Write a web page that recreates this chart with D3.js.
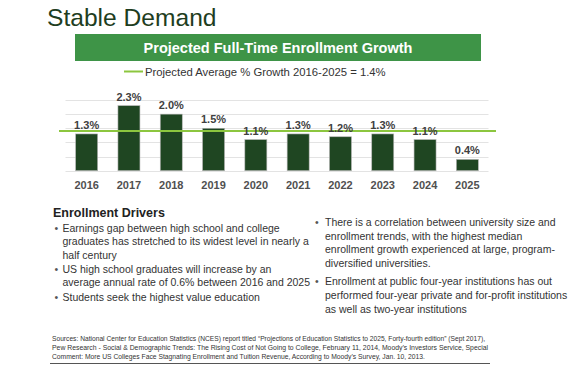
<!DOCTYPE html>
<html><head><meta charset="utf-8">
<script src="https://cdn.jsdelivr.net/npm/d3@7"></script>
<style>
html,body{margin:0;padding:0;background:#fff;}
svg{display:block;font-family:"Liberation Sans",Arial,sans-serif;}
</style></head>
<body>
<svg id="c" width="588" height="366"></svg>
<script>
const years = ["2016","2017","2018","2019","2020","2021","2022","2023","2024","2025"];
const growth = [1.3, 2.3, 2.0, 1.5, 1.1, 1.3, 1.2, 1.3, 1.1, 0.4];
const avgGrowth = 1.4;
const gridTicks = [0, 0.5, 1.0, 1.5, 2.0, 2.5];
const pageTitle = "Stable Demand";
const chartTitle = "Projected Full-Time Enrollment Growth";
const legendLabel = "Projected Average % Growth 2016-2025 = 1.4%";
const driversHeading = "Enrollment Drivers";
const leftBullets = [
  ["Earnings gap between high school and college", "graduates has stretched to its widest level in nearly a", "half century"],
  ["US high school graduates will increase by an", "average annual rate of 0.6% between 2016 and 2025"],
  ["Students seek the highest value education"]
];
const rightBullets = [
  ["There is a correlation between university size and", "enrollment trends, with the highest median", "enrollment growth experienced at large, program-", "diversified universities."],
  ["Enrollment at public four-year institutions has out", "performed four-year private and for-profit institutions", "as well as two-year institutions"]
];
const sources = [
  "Sources: National Center for Education Statistics (NCES) report titled \u201cProjections of Education Statistics to 2025, Forty-fourth edition\u201d (Sept 2017),",
  "Pew Research - Social & Demographic Trends: The Rising Cost of Not Going to College, February 11, 2014, Moody\u2019s Investors Service, Special",
  "Comment: More US Colleges Face Stagnating Enrollment and Tuition Revenue, According to Moody\u2019s Survey, Jan. 10, 2013."
];

const svg = d3.select("#c");

// Page title
svg.append("text").attr("x", 47).attr("y", 26)
  .attr("font-size", 24.6).attr("fill", "#1e3d21").text(pageTitle);

// Banner
svg.append("rect").attr("x", 75).attr("y", 34).attr("width", 406).attr("height", 27)
  .attr("fill", "#3e9447");
svg.append("text").attr("x", 278).attr("y", 53).attr("text-anchor", "middle")
  .attr("font-size", 14.5).attr("font-weight", "bold").attr("fill", "#fff").text(chartTitle);

// Legend
svg.append("line").attr("x1", 124).attr("x2", 143).attr("y1", 71.5).attr("y2", 71.5)
  .attr("stroke", "#8cc63f").attr("stroke-width", 2);
svg.append("text").attr("x", 145).attr("y", 76).attr("font-size", 11.3).attr("fill", "#333")
  .text(legendLabel);

// Chart
const x = d3.scaleBand().domain(years).range([65.5, 488.5]).paddingInner(0.48).paddingOuter(0.24);
const y = d3.scaleLinear().domain([0, 2.5]).range([170.7, 100]);

svg.append("g").selectAll("line").data(gridTicks).join("line")
  .attr("x1", 65.5).attr("x2", 488.5)
  .attr("y1", d => Math.round(y(d)) + 0.5).attr("y2", d => Math.round(y(d)) + 0.5)
  .attr("stroke", "#e3e3e3").attr("stroke-width", 1);

svg.append("g").selectAll("rect").data(growth).join("rect")
  .attr("x", (d, i) => x(years[i]))
  .attr("y", d => y(d))
  .attr("width", x.bandwidth())
  .attr("height", d => y(0) - y(d))
  .attr("fill", "#1f4622").attr("stroke", "#b5b5b5").attr("stroke-width", 0.6);

svg.append("line").attr("x1", 59).attr("x2", 496)
  .attr("y1", y(avgGrowth)).attr("y2", y(avgGrowth))
  .attr("stroke", "#8cc63f").attr("stroke-width", 2);

svg.append("g").selectAll("text").data(growth).join("text")
  .attr("x", (d, i) => x(years[i]) + x.bandwidth() / 2)
  .attr("y", d => y(d) - 5)
  .attr("text-anchor", "middle").attr("font-size", 11).attr("font-weight", "bold")
  .attr("fill", "#404040").text(d => d.toFixed(1) + "%");

const ax = svg.append("g").attr("transform", `translate(0,${y(0)})`)
  .call(d3.axisBottom(x).tickSize(0).tickPadding(10.5));
ax.select(".domain").remove();
ax.selectAll("text").attr("font-size", 11).attr("font-weight", "bold")
  .attr("fill", "#505050").attr("font-family", "Liberation Sans, Arial, sans-serif");

// Drivers text
svg.append("text").attr("x", 53).attr("y", 217).attr("font-size", 12.5)
  .attr("font-weight", "bold").attr("fill", "#222").text(driversHeading);

function bullets(list, bx, tx, y0, lh, gap) {
  let yy = y0;
  list.forEach(lines => {
    svg.append("text").attr("x", bx).attr("y", yy).attr("font-size", 10.5)
      .attr("fill", "#555").text("\u2022");
    lines.forEach(l => {
      svg.append("text").attr("x", tx).attr("y", yy).attr("font-size", 10.5)
        .attr("fill", "#333").text(l);
      yy += lh;
    });
    yy += gap;
  });
}
bullets(leftBullets, 54.5, 62.5, 232, 13.3, 1);
bullets(rightBullets, 315, 325, 226, 13.6, 5);

// Sources
const srcEnds = [485, 488, 425];
sources.forEach((s, i) => {
  svg.append("text").attr("x", 52).attr("y", 341 + i * 9).attr("font-size", 7.3)
    .attr("fill", "#333").attr("textLength", srcEnds[i] - 52).attr("lengthAdjust", "spacingAndGlyphs")
    .text(s);
});
svg.append("line").attr("x1", 50).attr("x2", 490).attr("y1", 363.5).attr("y2", 363.5)
  .attr("stroke", "#555").attr("stroke-width", 1.2);
</script>
</body></html>
